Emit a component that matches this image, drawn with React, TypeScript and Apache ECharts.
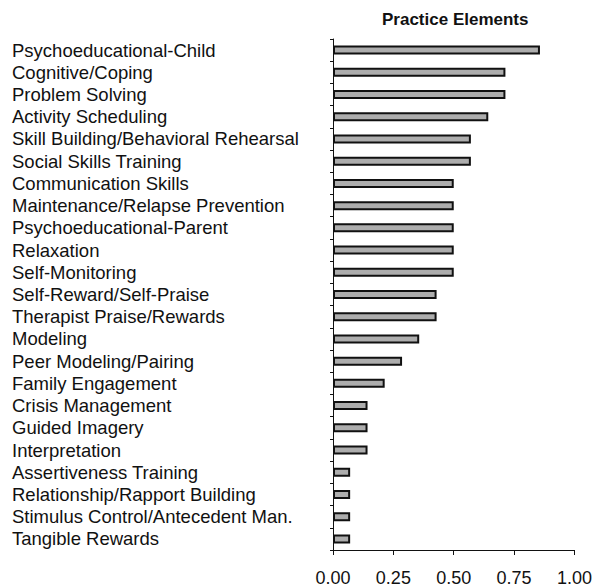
import React, { useEffect, useRef } from "react";
import * as echarts from "echarts";

const categories = [
  "Psychoeducational-Child",
  "Cognitive/Coping",
  "Problem Solving",
  "Activity Scheduling",
  "Skill Building/Behavioral Rehearsal",
  "Social Skills Training",
  "Communication Skills",
  "Maintenance/Relapse Prevention",
  "Psychoeducational-Parent",
  "Relaxation",
  "Self-Monitoring",
  "Self-Reward/Self-Praise",
  "Therapist Praise/Rewards",
  "Modeling",
  "Peer Modeling/Pairing",
  "Family Engagement",
  "Crisis Management",
  "Guided Imagery",
  "Interpretation",
  "Assertiveness Training",
  "Relationship/Rapport Building",
  "Stimulus Control/Antecedent Man.",
  "Tangible Rewards",
];

const values = [
  0.857, 0.714, 0.714, 0.643, 0.571, 0.571, 0.5, 0.5, 0.5, 0.5, 0.5, 0.429,
  0.429, 0.357, 0.286, 0.214, 0.143, 0.143, 0.143, 0.071, 0.071, 0.071, 0.071,
];

const xTicks = [0, 0.25, 0.5, 0.75, 1];

export default function App() {
  const ref = useRef<HTMLDivElement>(null);
  useEffect(() => {
    if (!ref.current) return;
    const chart = echarts.init(ref.current, null, { renderer: "svg" });
    const font = "'Liberation Sans', Arial, Helvetica, sans-serif";
    chart.setOption({
      animation: false,
      backgroundColor: "#ffffff",
      title: {
        text: "Practice Elements",
        left: 377,
        top: 6,
        textStyle: { fontFamily: font, fontSize: 17, fontWeight: "bold", color: "#111" },
      },
      grid: { left: 333, right: 19, top: 39, bottom: 37, containLabel: false },
      xAxis: {
        type: "value",
        min: 0,
        max: 1,
        interval: 0.25,
        axisLine: { show: true, lineStyle: { color: "#111", width: 1 } },
        axisTick: { show: true, length: 5, lineStyle: { color: "#111" } },
        splitLine: { show: false },
        axisLabel: {
          margin: 19,
          fontFamily: font,
          fontSize: 18,
          color: "#111",
          formatter: (v: number) => (xTicks.includes(v) ? v.toFixed(2) : ""),
        },
      },
      yAxis: {
        type: "category",
        data: categories,
        inverse: true,
        axisLine: { show: true, lineStyle: { color: "#111", width: 1 } },
        axisTick: { show: true, length: 3, lineStyle: { color: "#111" } },
        axisLabel: {
          interval: 0,
          align: "left",
          margin: 321,
          fontFamily: font,
          fontSize: 18.5,
          color: "#111",
        },
      },
      series: [
        {
          type: "bar",
          data: values,
          barWidth: 9,
          itemStyle: {
            color: "#adadad",
            borderColor: "#111",
            borderWidth: 2,
          },
        },
      ],
    });
    return () => chart.dispose();
  }, []);
  return <div ref={ref} style={{ width: 595, height: 587, position: "absolute", left: 0, top: 0 }} />;
}
